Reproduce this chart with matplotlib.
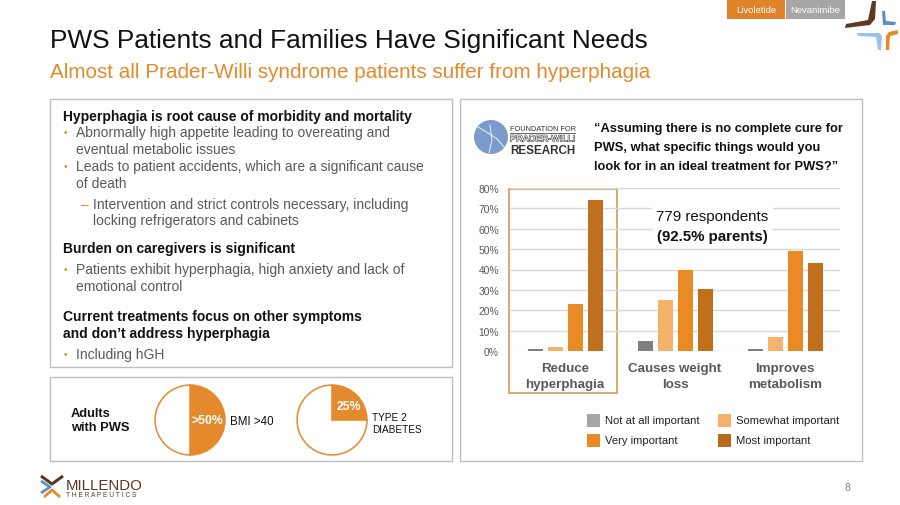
import numpy as np
import matplotlib.pyplot as plt
import matplotlib.patheffects as pe
from matplotlib.patches import Rectangle, Circle, Polygon

plt.rcParams['font.family'] = ['Liberation Sans', 'DejaVu Sans']

# ---- data ----
categories = ['Reduce\nhyperphagia', 'Causes weight\nloss', 'Improves\nmetabolism']
series_names = ['Not at all important', 'Somewhat important', 'Very important', 'Most important']
not_at_all = [1, 5, 1]
somewhat = [2, 25, 7]
very = [23, 40, 49]
most = [74, 30.5, 43]
y_ticks = [0, 10, 20, 30, 40, 50, 60, 70, 80]

bmi_share = [50, 50]        # >50% BMI >40
diabetes_share = [25, 75]   # 25% type 2 diabetes

bar_colors = ['#7F7F7F', '#F4B26C', '#E98A25', '#C0701C']
legend_colors = ['#A6A6A6', '#F4B26C', '#E98A25', '#B8691A']
orange = '#E48A2C'
gray_txt = '#595959'
box_col = '#BFBFBF'

fig = plt.figure(figsize=(9, 5.06), dpi=100)

# background axes in pixel units
bg = fig.add_axes([0, 0, 1, 1])
bg.set_xlim(0, 900)
bg.set_ylim(506, 0)
bg.axis('off')

# title
bg.text(50, 41, 'PWS Patients and Families Have Significant Needs', fontsize=18.9,
        color='#111111', va='center')
bg.text(50, 72, 'Almost all Prader-Willi syndrome patients suffer from hyperphagia',
        fontsize=14.85, color=orange, va='center')

# top right buttons
bg.add_patch(Rectangle((727, 0), 58, 20, facecolor='#E0822A', edgecolor='none'))
bg.add_patch(Rectangle((786, 0), 59, 20, facecolor='#A6A6A6', edgecolor='none'))
bg.text(756, 10, 'Livoletide', fontsize=6.8, color='white', ha='center', va='center')
bg.text(815.5, 10, 'Nevanimibe', fontsize=6.8, color='white', ha='center', va='center')

# star logo
bg.add_patch(Polygon([(872, 2), (876, 2), (875, 20), (870, 26), (845, 29), (846, 25), (868, 21)],
                     facecolor='#5C3A21', edgecolor='none'))
bg.add_patch(Polygon([(882, 12), (885, 12), (886, 22), (896, 23), (895, 26), (883, 26)],
                     facecolor='#5B8FC7', edgecolor='none'))
bg.add_patch(Polygon([(857, 34), (879, 34), (882, 37), (881, 51), (878, 51), (876, 38), (858, 37)],
                     facecolor='#9CC3E6', edgecolor='none'))
bg.add_patch(Polygon([(886, 51), (886, 37), (889, 33), (898, 31), (898, 35), (890, 37), (889, 51)],
                     facecolor='#E98A25', edgecolor='none'))

# boxes
bg.add_patch(Rectangle((50, 100), 402, 268, facecolor='none', edgecolor=box_col, lw=1))
bg.add_patch(Rectangle((460, 100), 402, 362, facecolor='none', edgecolor=box_col, lw=1))
bg.add_patch(Rectangle((50, 378), 402, 84, facecolor='none', edgecolor=box_col, lw=1))

# left text block
fs = 10
bg.text(63, 117, 'Hyperphagia is root cause of morbidity and mortality', fontsize=fs,
        fontweight='bold', color='#111111', va='center')
body = [
    (133, 'bullet', 'Abnormally high appetite leading to overeating and'),
    (150, 'cont', 'eventual metabolic issues'),
    (167, 'bullet', 'Leads to patient accidents, which are a significant cause'),
    (184, 'cont', 'of death'),
    (205, 'dash', 'Intervention and strict controls necessary, including'),
    (221, 'cont2', 'locking refrigerators and cabinets'),
    (270, 'bullet', 'Patients exhibit hyperphagia, high anxiety and lack of'),
    (287, 'cont', 'emotional control'),
    (355, 'bullet', 'Including hGH'),
]
for y, kind, txt in body:
    if kind == 'bullet':
        bg.text(64, y, '•', fontsize=7, color=orange, va='center')
    if kind == 'dash':
        bg.text(81, y, '–', fontsize=fs, color=orange, va='center')
    x = 93 if kind in ('dash', 'cont2') else 76
    bg.text(x, y, txt, fontsize=fs, color=gray_txt, va='center')
bg.text(63, 249, 'Burden on caregivers is significant', fontsize=fs,
        fontweight='bold', color='#111111', va='center')
bg.text(63, 317, 'Current treatments focus on other symptoms', fontsize=fs,
        fontweight='bold', color='#111111', va='center')
bg.text(63, 334, 'and don\u2019t address hyperphagia', fontsize=fs,
        fontweight='bold', color='#111111', va='center')

# foundation logo + question
bg.add_patch(Circle((491, 138), 17, facecolor='#7B9CCB', edgecolor='none'))
bg.plot([478, 488, 497, 506], [128, 134, 140, 150], color='white', lw=0.6)
bg.plot([490, 492, 489], [126, 141, 154], color='white', lw=0.6)
bg.text(510, 129, 'FOUNDATION FOR', fontsize=5.3, color='#333333', va='center')
bg.plot([510, 575], [134, 134], color='#333333', lw=0.5)
bg.text(510, 140, 'PRADER-WILLI', fontsize=6.6, color='white', va='center',
        path_effects=[pe.withStroke(linewidth=0.8, foreground='#444444')])
bg.text(510, 151, 'RESEARCH', fontsize=8.4, fontweight='bold', color='#333333', va='center')
bg.text(594, 148, '\u201cAssuming there is no complete cure for\nPWS, what specific things would you\nlook for in an ideal treatment for PWS?\u201d',
        fontsize=9.3, fontweight='bold', color='#111111', va='center', linespacing=1.78)

# highlight box around first category
bg.add_patch(Rectangle((509, 190), 108, 204, facecolor='none', edgecolor='#D9A066', lw=1.3))

# ---- bar chart ----
ax = fig.add_axes([510 / 900, 1 - 352 / 506, 330 / 900, 163 / 506])
ax.patch.set_visible(False)
x = np.arange(len(categories))
pitch = 20 / 110
width = 15 / 110
for i, (vals, c) in enumerate(zip([not_at_all, somewhat, very, most], bar_colors)):
    ax.bar(x + (i - 1.5) * pitch, vals, width, color=c, zorder=3)
ax.set_xlim(-0.5, 2.5)
ax.set_ylim(0, 80)
ax.set_yticks(y_ticks)
ax.set_yticklabels([f'{v}%' for v in y_ticks], fontsize=7.4, color=gray_txt)
ax.set_xticks(x)
ax.set_xticklabels(categories, fontsize=9.6, fontweight='bold', color=gray_txt, linespacing=1.38)
ax.tick_params(length=0)
ax.tick_params(axis='y', pad=8)
ax.tick_params(axis='x', pad=8)
ax.grid(axis='y', color='#D9D9D9', lw=1, zorder=0)
for s in ax.spines.values():
    s.set_visible(False)
ax.text(1.34, 66.3, '779 respondents', fontsize=10.8, color='#111111', ha='center', va='center',
        bbox=dict(facecolor='white', edgecolor='none', pad=3), zorder=5)
ax.text(1.34, 56.5, '(92.5% parents)', fontsize=10.8, fontweight='bold', color='#111111',
        ha='center', va='center', bbox=dict(facecolor='white', edgecolor='none', pad=3), zorder=5)

# legend
leg_pos = [(587, 421), (718, 421), (587, 441), (718, 441)]
for (lx, ly), name, c in zip(leg_pos, series_names, legend_colors):
    bg.add_patch(Rectangle((lx, ly - 6.5), 13, 13, facecolor=c, edgecolor='none'))
    bg.text(lx + 18, ly, name, fontsize=8.1, color='#222222', va='center')

# ---- pies ----
bg.text(71, 421, 'Adults\nwith PWS', fontsize=9.3, fontweight='bold', color='#111111',
        va='center', linespacing=1.25)
for cx, share, lab, lab_xy in [(190, bmi_share, '>50%', (0.5, 0.0)),
                               (332, diabetes_share, '25%', (0.47, 0.4))]:
    pa = fig.add_axes([(cx - 36) / 900, 1 - (421 + 36) / 506, 72 / 900, 72 / 506])
    pa.pie(share, colors=[orange, 'white'], startangle=90, counterclock=False,
           wedgeprops=dict(edgecolor=orange, linewidth=1.1))
    pa.set_xlim(-1.03, 1.03)
    pa.set_ylim(-1.03, 1.03)
    pa.set_aspect('equal')
    pa.text(lab_xy[0], lab_xy[1], lab, fontsize=8.8, fontweight='bold', color='white',
            ha='center', va='center')
bg.text(230, 422, 'BMI >40', fontsize=8.3, color='#111111', va='center')
bg.text(372, 424, 'TYPE 2\nDIABETES', fontsize=7.2, color='#111111', va='center', linespacing=1.2)

# footer
bg.text(847, 488, '8', fontsize=7.5, color='#7F7F7F', ha='center', va='center')
bg.plot([41, 52, 63], [477, 485, 477], color='#5C3A21', lw=2.2, solid_capstyle='butt')
bg.plot([41, 50, 41], [482, 488, 494], color='#5B8FC7', lw=2, solid_capstyle='butt')
bg.plot([44, 52, 60], [498, 491, 498], color='#E98A25', lw=2, solid_capstyle='butt')
bg.text(66, 486, 'MILLENDO', fontsize=10.8, color='#5C3A21', va='center')
bg.text(66, 496, 'T H E R A P E U T I C S', fontsize=4.8, color='#5C3A21', va='center')

fig.savefig('out.png', dpi=100)
